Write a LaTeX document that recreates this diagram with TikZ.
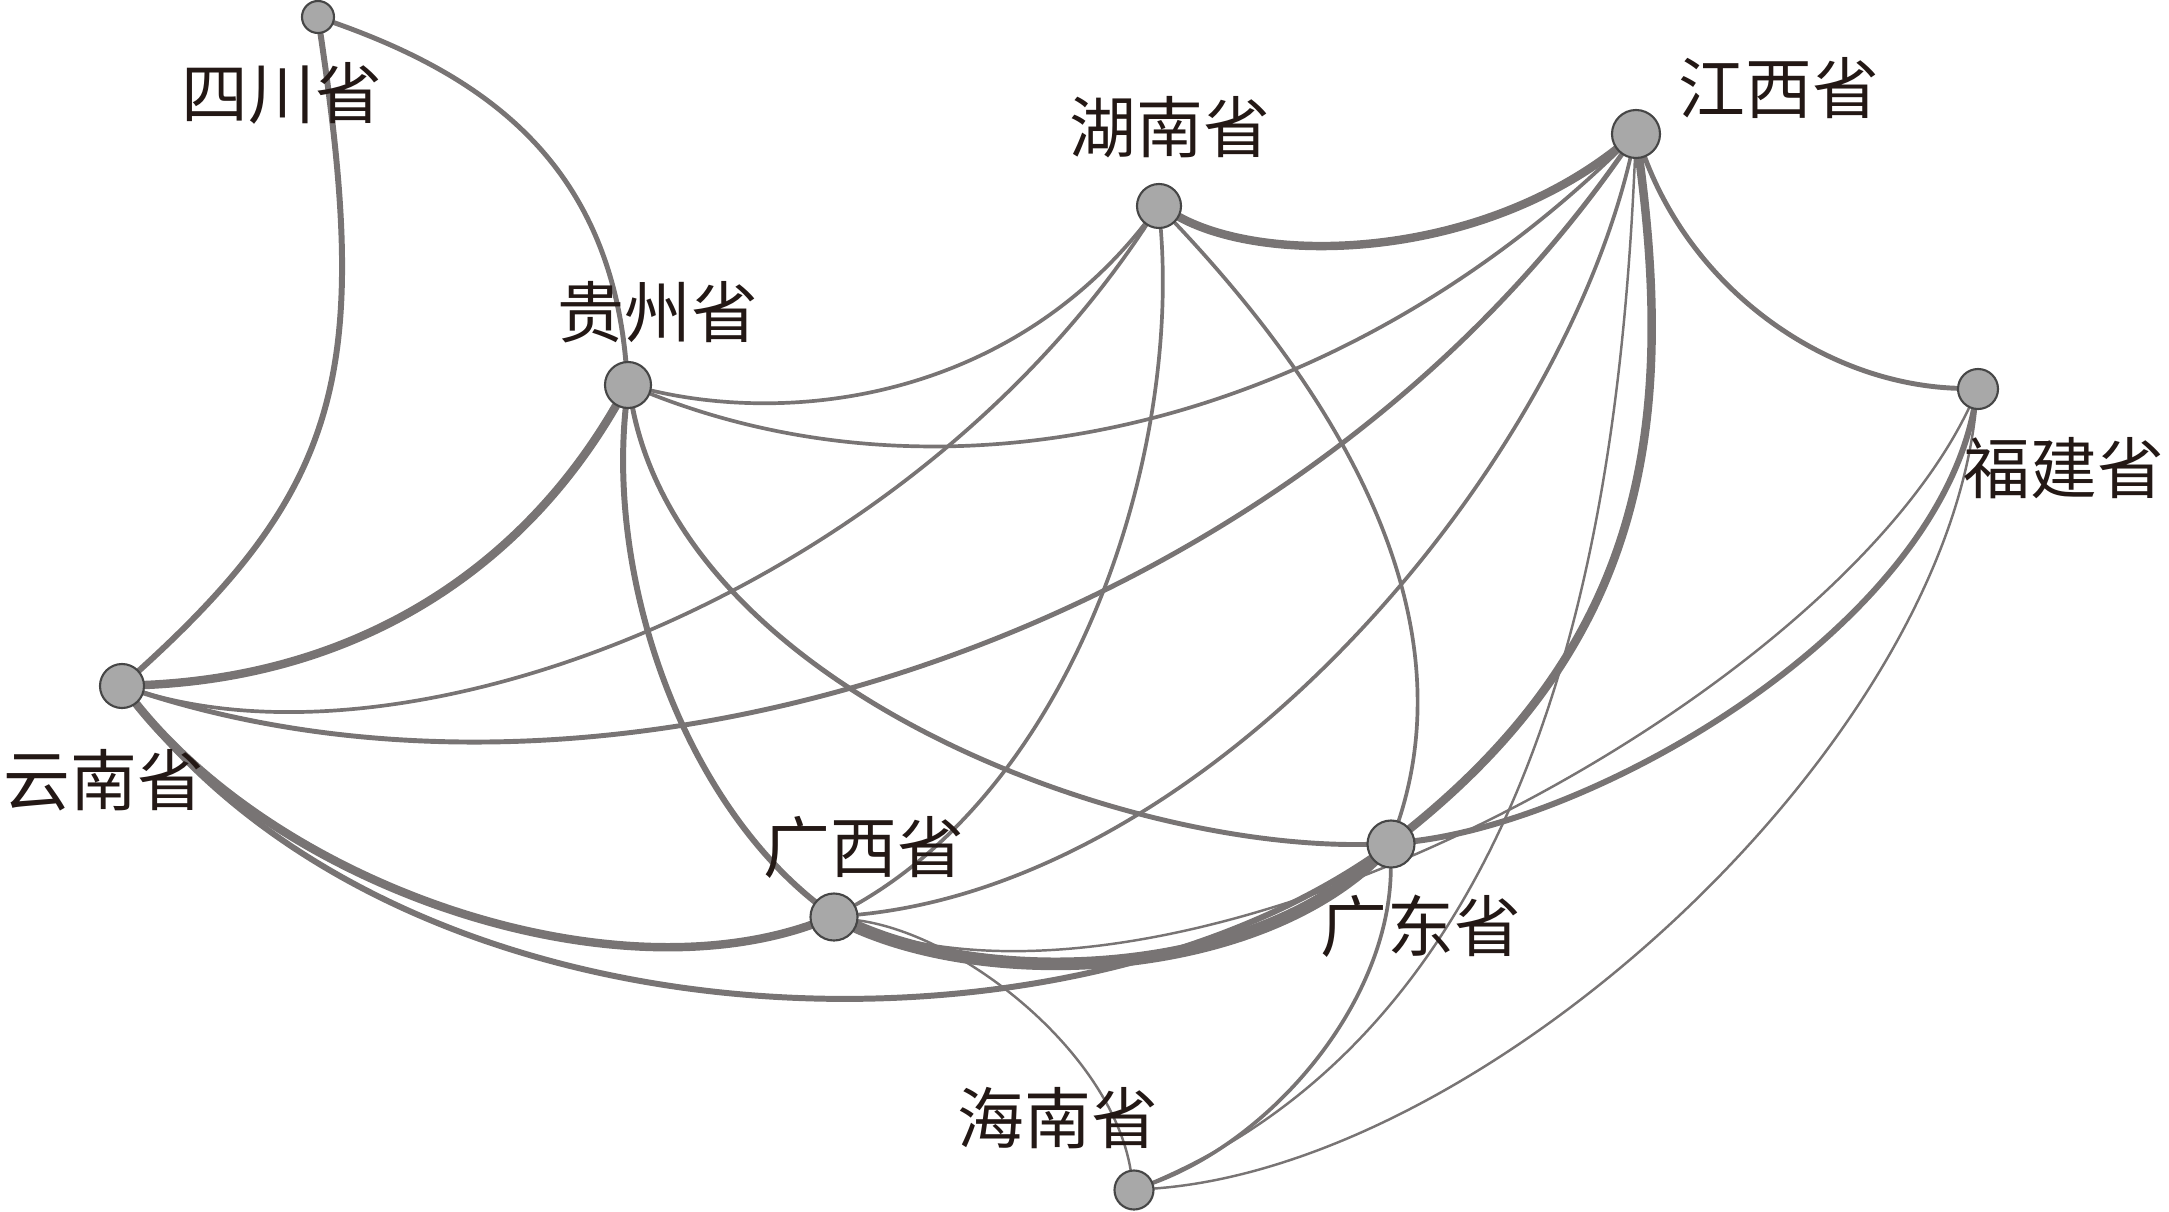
\documentclass[tikz,border=0pt]{standalone}
\usepackage{fontspec}
\newfontfamily\cjk{Noto Sans CJK SC}
\usetikzlibrary{backgrounds}

\definecolor{linkgray}{RGB}{120,116,116}
\definecolor{dotgray}{RGB}{168,168,168}
\definecolor{rimgray}{RGB}{70,70,70}
\definecolor{inkbrown}{RGB}{35,24,21}

\tikzset{
  prov/.style={circle, draw=rimgray, fill=dotgray, line width=0.6pt, inner sep=0pt, minimum size=#1},
  provname/.style={font=\cjk\fontsize{19pt}{22pt}\selectfont, text=inkbrown, inner sep=0pt},
  link/.style={draw=linkgray, line cap=round},
  lkA/.style={link, line width=0.7pt},
  lkB/.style={link, line width=1.05pt},
  lkC/.style={link, line width=1.4pt},
  lkD/.style={link, line width=1.7pt},
  lkE/.style={link, line width=2.4pt},
  lkF/.style={link, line width=3.6pt}
}

\begin{document}
\begin{tikzpicture}[x=0.01cm, y=-0.01cm]
  \useasboundingbox (0,0) rectangle (2169,1212);

  % provinces
  \node[prov=0.32cm] (sc)  at (318,17)   {};
  \node[prov=0.46cm] (gz)  at (628,385)  {};
  \node[prov=0.44cm] (yn)  at (122,686)  {};
  \node[prov=0.44cm] (hn)  at (1159,206) {};
  \node[prov=0.48cm] (jx)  at (1636,134) {};
  \node[prov=0.40cm] (fj)  at (1978,389) {};
  \node[prov=0.47cm] (gd)  at (1391,844) {};
  \node[prov=0.47cm] (gx)  at (834,917)  {};
  \node[prov=0.39cm] (hai) at (1134,1190) {};

  % names
  \node[provname] (sc-lbl)  at (282,93)   {四川省};
  \node[provname] (gz-lbl)  at (658,312)  {贵州省};
  \node[provname] (hn-lbl)  at (1170,127) {湖南省};
  \node[provname] (jx-lbl)  at (1779,88)  {江西省};
  \node[provname] (fj-lbl)  at (2064,468) {福建省};
  \node[provname] (yn-lbl)  at (104,780)  {云南省};
  \node[provname] (gx-lbl)  at (864,847)  {广西省};
  \node[provname] (gd-lbl)  at (1421,926) {广东省};
  \node[provname] (hai-lbl) at (1058,1118) {海南省};

  % links
  \begin{scope}[on background layer]
    \draw[lkD] (sc) .. controls +(52,350) and +(222,-201) .. (yn);
    \draw[lkC] (sc) .. controls +(170,60) and +(-20,-220) .. (gz);
    \draw[lkE] (gz) .. controls +(-110,190) and +(230,-10) .. (yn);
    \draw[lkB] (gz) .. controls +(170,40) and +(-150,190) .. (hn);
    \draw[lkB] (gz) .. controls +(330,130) and +(-300,290) .. (jx);
    \draw[lkD] (gz) .. controls +(-20,200) and +(-150,-120) .. (gx);
    \draw[lkC] (gz) .. controls +(60,300) and +(-280,5) .. (gd);
    \draw[lkB] (yn) .. controls +(300,90) and +(-250,380) .. (hn);
    \draw[lkC] (yn) .. controls +(500,160) and +(-350,500) .. (jx);
    \draw[lkE] (yn) .. controls +(160,200) and +(-230,80) .. (gx);
    \draw[lkD] (yn) .. controls +(290,370) and +(-340,230) .. (gd);
    \draw[lkE] (hn) .. controls +(110,60) and +(-160,125) .. (jx);
    \draw[lkB] (hn) .. controls +(20,254) and +(240,-136) .. (gx);
    \draw[lkB] (hn) .. controls +(155,164) and +(82,-249) .. (gd);
    \draw[lkC] (jx) .. controls +(60,160) and +(-150,-5) .. (fj);
    \draw[lkB] (jx) .. controls +(-80,340) and +(379,-37) .. (gx);
    \draw[lkE] (jx) .. controls +(40,300) and +(249,-201) .. (gd);
    \draw[lkA] (jx) .. controls +(-16,366) and +(421,-179) .. (hai);
    \draw[lkD] (fj) .. controls +(-48,241) and +(212,-26) .. (gd);
    \draw[lkA] (fj) .. controls +(-148,311) and +(351,132) .. (gx);
    \draw[lkA] (fj) .. controls +(-38,361) and +(355,-26) .. (hai);
    \draw[lkF] (gx) .. controls +(166,73) and +(-141,131) .. (gd);
    \draw[lkA] (gx) .. controls +(130,18) and +(-23,-137) .. (hai);
    \draw[lkB] (gd) .. controls +(-1,156) and +(141,-52) .. (hai);
  \end{scope}
\end{tikzpicture}
\end{document}
